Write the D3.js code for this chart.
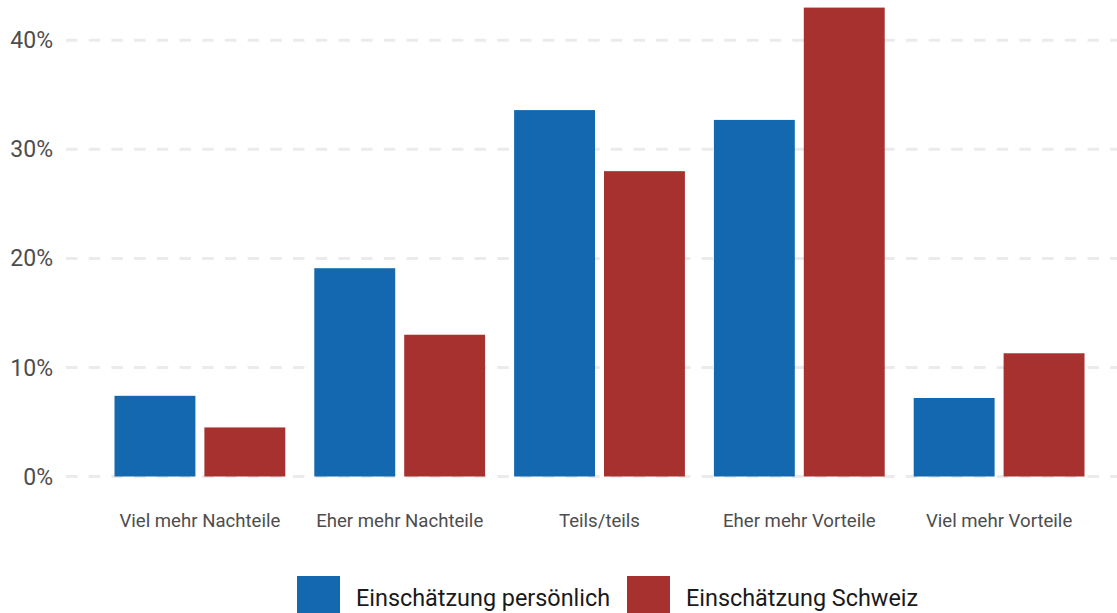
<!DOCTYPE html>
<meta charset="utf-8">
<style>
body { margin: 0; background: #fff; }
svg text { font-family: Roboto, "Noto Sans", sans-serif; }
.grid line { stroke: #ebebeb; stroke-width: 3; stroke-dasharray: 11.5 11.2; }
</style>
<body>
<div id="chart"></div>
<script src="https://d3js.org/d3.v7.min.js"></script>
<script>

// categories and series
var categories = ["Viel mehr Nachteile", "Eher mehr Nachteile", "Teils/teils", "Eher mehr Vorteile", "Viel mehr Vorteile"];
var seriesNames = ["Einschätzung persönlich", "Einschätzung Schweiz"];
var persoenlich = [7.4, 19.1, 33.6, 32.7, 7.2];
var schweiz     = [4.5, 13.0, 28.0, 43.0, 11.3];
var yTicks = [0, 10, 20, 30, 40];
var colors = ["#1368af", "#a7312f"];

var chartWidth = 1117, chartHeight = 613;

var data = categories.map(function(c, i){
    return {cat: c, values: [persoenlich[i], schweiz[i]]};
});

var svg = d3.select("#chart").append("svg")
    .attr("width", chartWidth)
    .attr("height", chartHeight);

var x0 = d3.scaleBand()
    .domain(categories)
    .range([100, 1099])
    .padding(0);

var x1 = d3.scaleBand()
    .domain(seriesNames)
    .range([14.5, x0.bandwidth() - 14.5])
    .paddingInner(0.1);

var y = d3.scaleLinear()
    .domain([0, 40])
    .range([476.5, 40.3]);

// dashed grid
svg.append("g")
    .attr("class", "grid")
    .selectAll("line")
    .data(yTicks)
    .enter().append("line")
    .attr("x1", 66).attr("x2", chartWidth)
    .attr("y1", d => y(d)).attr("y2", d => y(d));

// y labels
svg.append("g")
    .selectAll("text")
    .data(yTicks)
    .enter().append("text")
    .attr("x", 53)
    .attr("y", d => y(d))
    .attr("dy", "0.35em")
    .attr("text-anchor", "end")
    .attr("font-size", 23)
    .attr("fill", "#4d4d4d")
    .text(d => d + "%");

// bars
var groups = svg.append("g")
    .selectAll("g")
    .data(data)
    .enter().append("g")
    .attr("transform", d => "translate(" + x0(d.cat) + ",0)");

groups.selectAll("rect")
    .data(d => d.values.map((v, i) => ({key: seriesNames[i], value: v, i: i})))
    .enter().append("rect")
    .attr("x", d => x1(d.key))
    .attr("width", x1.bandwidth())
    .attr("y", d => y(d.value))
    .attr("height", d => y(0) - y(d.value))
    .attr("fill", d => colors[d.i]);

// category labels
svg.append("g")
    .selectAll("text")
    .data(categories)
    .enter().append("text")
    .attr("x", d => x0(d) + x0.bandwidth() / 2)
    .attr("y", 527)
    .attr("text-anchor", "middle")
    .attr("font-size", 18.6)
    .attr("fill", "#4d4d4d")
    .text(d => d);

// legend
var legendX = [297, 627];
var legend = svg.append("g")
    .selectAll("g")
    .data(seriesNames)
    .enter().append("g")
    .attr("transform", (d, i) => "translate(" + legendX[i] + ",576)");

legend.append("rect")
    .attr("width", 43).attr("height", 43)
    .attr("fill", (d, i) => colors[i]);

legend.append("text")
    .attr("x", 59)
    .attr("y", 29.7)
    .attr("font-size", 23.4)
    .attr("fill", "#1a1a1a")
    .text(d => d);

</script>
